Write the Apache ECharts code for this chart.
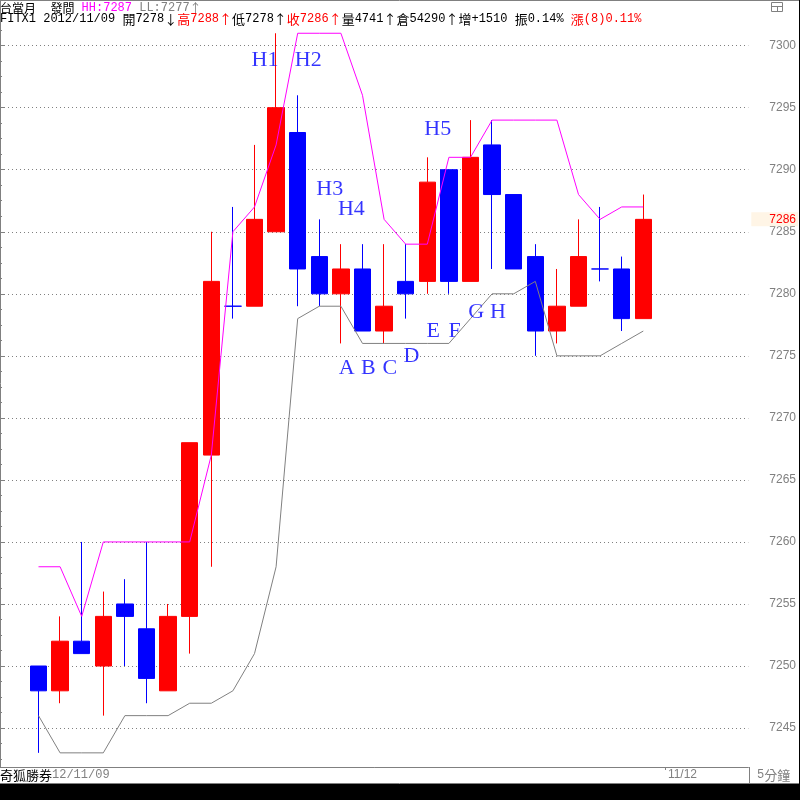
<!DOCTYPE html>
<html><head><meta charset="utf-8">
<script src="https://cdn.jsdelivr.net/npm/echarts@6/dist/echarts.min.js"></script>
<style>html,body{margin:0;padding:0;background:#000;}#c{width:799px;height:784px;background:#fff;}</style>
</head><body><div id="c"></div>
<script>
// ---- data ----
const categories = ['11:25','11:30','11:35','11:40','11:45','11:50','11:55','12:00','12:05','12:10',
  '12:15','12:20','12:25','12:30','12:35','12:40','12:45','12:50','12:55','13:00',
  '13:05','13:10','13:15','13:20','13:25','13:30','13:35','13:40','13:45','11/12'];
const candleOpen  = [7250,7248,7252,7250,7255,7253,7248,7254,7267,7279,7279,7285,7293,7283,7280,7282,7277,7281,7281,7290,7281,7292,7288,7283,7277,7279,7282,7282,7278];
const candleClose = [7248,7252,7251,7254,7254,7249,7254,7268,7281,7279,7286,7295,7282,7280,7282,7277,7279,7280,7289,7281,7291,7288,7282,7277,7279,7283,7282,7278,7286];
const candleLow   = [7243,7247,7251,7246,7250,7247,7248,7251,7258,7278,7279,7285,7279,7279,7276,7277,7276,7278,7280,7280,7281,7282,7282,7275,7276,7279,7281,7277,7278];
const candleHigh  = [7250,7254,7260,7256,7257,7260,7255,7268,7285,7287,7292,7301,7296,7286,7284,7284,7284,7284,7291,7290,7294,7294,7288,7284,7282,7286,7287,7283,7288];
const hhLine = [7258,7258,7254,7260,7260,7260,7260,7260,7267,7285,7287,7292,7301,7301,7301,7296,7286,7284,7284,7291,7291,7294,7294,7294,7294,7288,7286,7287,7287];
const llLine = [7246,7243,7243,7243,7246,7246,7246,7247,7247,7248,7251,7258,7278,7279,7279,7276,7276,7276,7276,7276,7278,7280,7280,7281,7275,7275,7275,7276,7277];
const annoText  = ['H1','H2','H3','H4','H5','A','B','C','D','E','F','G','H'];
const annoIndex = [10,12,13,14,18,14,15,16,17,18,19,20,21];
const annoValue = [7298.8,7298.8,7288.4,7286.8,7293.3,7274,7274,7274,7275,7277,7277,7278.5,7278.5];
const yMin = 7241.86, yMax = 7303.68;
const header1 = [['台當月  發問 ','#000000'],['HH:7287','#ff00ff'],[' LL:7277↑','#808080']];
const header2 = [['FITX1 2012/11/09 開7278↓','#000000'],['高7288↑','#ff0000'],['低7278↑','#000000'],
  ['收7286↑','#ff0000'],['量4741↑倉54290↑增+1510 振0.14% ','#000000'],['漲(8)0.11%','#ff0000']];
const footLeft = [['奇狐勝券','#000000'],['12/11/09','#808080']];
const footRight = [['5分鐘','#808080']];

// ---- build ----
const candles = candleOpen.map((o,i)=>[o,candleClose[i],candleLow[i],candleHigh[i]]);
const lastClose = candleClose[candleClose.length-1];
const dateIdx = categories.length-1;

function rich(segs, asciiSize, cjkSize){
  let s=''; const st={};
  segs.forEach(([t,col],k)=>{
    (t.match(/[\x20-\x7e]+|[^\x20-\x7e]+/g)||[]).forEach(r=>{
      const asc=/^[\x20-\x7e]/.test(r);
      const nm=(asc?'a':'c')+k;
      st[nm]={fill:col,fontFamily:asc?'Liberation Mono':'Noto Sans CJK TC',fontSize:asc?asciiSize:cjkSize};
      s+='{'+nm+'|'+r+'}';
    });
  });
  return {text:s,rich:st};
}
function textEl(segs,x,y,a,c,align){
  const r=rich(segs,a,c);
  return {type:'text',x:x,y:y,z:50,silent:true,style:{text:r.text,rich:r.rich,align:align||'left',verticalAlign:'middle'}};
}

const chart = echarts.init(document.getElementById('c'), null, {renderer:'canvas'});
chart.setOption({
  animation:false,
  grid:[
    {left:27.7, top:0, width:648, height:767},
    {left:0, top:0, width:749, height:767}
  ],
  xAxis:[
    {type:'category', gridIndex:0, data:categories, boundaryGap:true,
     axisLine:{show:false},
     axisTick:{show:true, alignWithLabel:true, length:3, interval:(i)=>i===dateIdx, lineStyle:{color:'#808080'}},
     axisLabel:{show:true, interval:(i)=>i===dateIdx, align:'left', padding:[0,0,0,3], margin:2,
       color:'#808080', fontFamily:'Liberation Sans', fontSize:12},
     splitLine:{show:false}},
    {type:'value', gridIndex:1, min:0, max:1, axisLine:{show:true, onZero:false, lineStyle:{color:'#808080'}},
     axisTick:{show:false}, axisLabel:{show:false}, splitLine:{show:false}}
  ],
  yAxis:[
    {type:'value', gridIndex:0, min:yMin, max:yMax, show:false, splitLine:{show:false}},
    {type:'value', gridIndex:1, position:'right', min:yMin, max:yMax, minInterval:5, maxInterval:5,
     axisLine:{show:true, lineStyle:{color:'#808080'}},
     axisTick:{show:true, length:4, lineStyle:{color:'#808080'}},
     minorTick:{show:true, splitNumber:4, length:2, lineStyle:{color:'#808080'}},
     axisLabel:{show:true, showMinLabel:false, showMaxLabel:false, margin:21, color:'#808080',
       fontFamily:'Liberation Sans', fontSize:12, formatter:(v)=>String(Math.round(v))},
     splitLine:{show:true, lineStyle:{color:'#808080', type:[1,3], width:1}}}
  ],
  series:[
    {type:'candlestick', xAxisIndex:0, yAxisIndex:0, data:candles, barWidth:17, z:2,
     itemStyle:{color:'#ff0000', color0:'#0000ff', borderColor:'#ff0000', borderColor0:'#0000ff',
       borderColorDoji:'#0000ff', borderWidth:1},
     emphasis:{disabled:true}},
    {type:'line', xAxisIndex:0, yAxisIndex:0, data:hhLine, symbol:'none', z:3,
     lineStyle:{color:'#ff00ff', width:1}, emphasis:{disabled:true}},
    {type:'line', xAxisIndex:0, yAxisIndex:0, data:llLine, symbol:'none', z:3,
     lineStyle:{color:'#808080', width:1}, emphasis:{disabled:true}},
    {type:'scatter', xAxisIndex:0, yAxisIndex:0, symbolSize:0, z:4,
     data:annoText.map((t,i)=>({name:t, value:[annoIndex[i], annoValue[i]],
       label:{offset:[t.length>1?10.5:5.8, 0]}})),
     label:{show:true, position:'inside', formatter:'{b}', color:'#0000ff',
       fontFamily:'Liberation Serif', fontSize:22},
     emphasis:{disabled:true}},
    {type:'line', xAxisIndex:1, yAxisIndex:1, data:[[0,lastClose],[1,lastClose]], symbol:'none', silent:true,
     lineStyle:{color:'rgba(0,0,0,0)', width:0}, z:5,
     markLine:{silent:true, symbol:'none', lineStyle:{color:'rgba(0,0,0,0)', width:0},
       label:{show:true, position:'end', distance:3, formatter:String(lastClose), color:'#ff0000',
         fontFamily:'Liberation Sans', fontSize:12, backgroundColor:'#fff5e6', padding:[1,2,1,18]},
       data:[{yAxis:lastClose}]}}
  ],
  graphic:[
    textEl(header1,0,8,12,12),
    textEl(header2,0,19,12,13),
    textEl(footLeft,0,775,12,13),
    textEl(footRight,757,775,12,13),
    {type:'line', silent:true, shape:{x1:0,y1:0.5,x2:799,y2:0.5}, style:{stroke:'#808080',lineWidth:1}},
    {type:'line', silent:true, shape:{x1:749.5,y1:767,x2:749.5,y2:783}, style:{stroke:'#808080',lineWidth:1}},
    {type:'line', silent:true, shape:{x1:0,y1:783.5,x2:799,y2:783.5}, style:{stroke:'#808080',lineWidth:1}},
    {type:'rect', silent:true, shape:{x:771.5,y:2.5,width:11,height:9}, style:{fill:'none',stroke:'#808080',lineWidth:1}},
    {type:'line', silent:true, shape:{x1:771.5,y1:6.5,x2:782.5,y2:6.5}, style:{stroke:'#808080',lineWidth:1}},
    {type:'line', silent:true, shape:{x1:777.5,y1:6.5,x2:777.5,y2:11.5}, style:{stroke:'#808080',lineWidth:1}}
  ]
});
</script></body></html>
